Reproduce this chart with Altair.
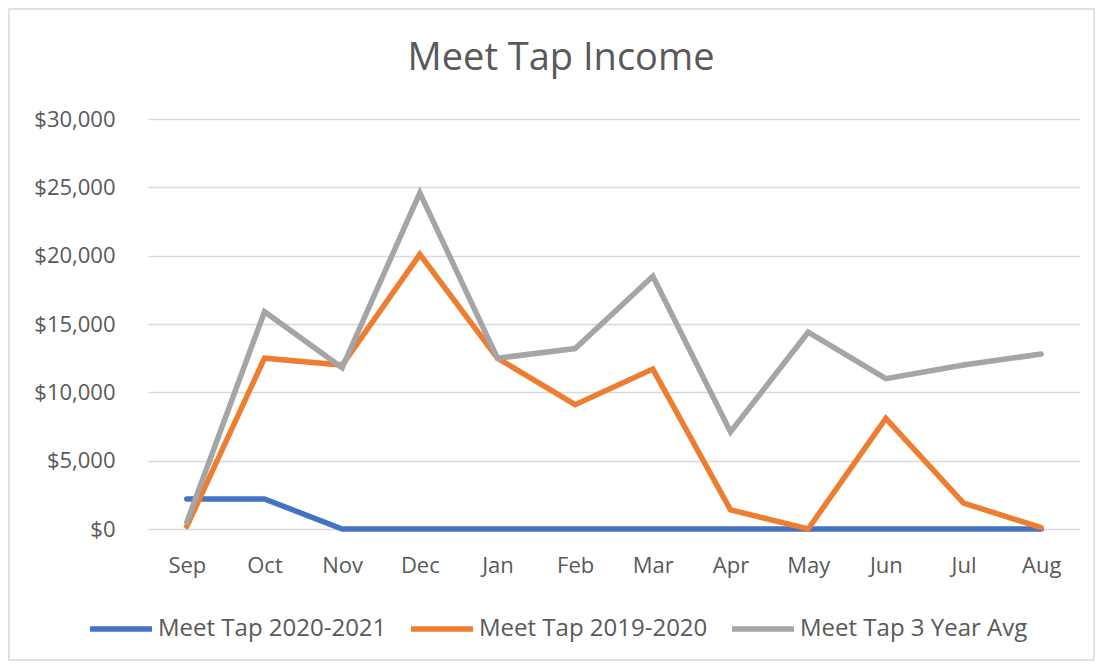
import altair as alt
import pandas as pd

months = ["Sep", "Oct", "Nov", "Dec", "Jan", "Feb", "Mar", "Apr", "May", "Jun", "Jul", "Aug"]
series_names = ["Meet Tap 2020-2021", "Meet Tap 2019-2020", "Meet Tap 3 Year Avg"]
tap_2020_2021 = [2200, 2200, 0, 0, 0, 0, 0, 0, 0, 0, 0, 0]
tap_2019_2020 = [200, 12500, 12000, 20100, 12500, 9100, 11700, 1400, 0, 8100, 1900, 100]
tap_3yr_avg = [500, 15900, 11800, 24600, 12500, 13200, 18500, 7100, 14400, 11000, 12000, 12800]
colors = ["#4472C4", "#ED7D31", "#A5A5A5"]
y_ticks = [0, 5000, 10000, 15000, 20000, 25000, 30000]
title_text = "Meet Tap Income"

rows = []
for name, vals in zip(series_names, [tap_2020_2021, tap_2019_2020, tap_3yr_avg]):
    for m, v in zip(months, vals):
        rows.append({"Month": m, "Series": name, "Income": v})
df = pd.DataFrame(rows)

FONT = "Open Sans"
TXT = "#595959"

lines = alt.Chart(df).mark_line(strokeWidth=5.5, strokeCap="round").encode(
    x=alt.X("Month:N", sort=months, title=None,
            scale=alt.Scale(type="point", padding=0.5),
            axis=alt.Axis(labelAngle=0, ticks=False, domain=False, grid=False,
                          labelFontSize=22, labelColor=TXT, labelFont=FONT,
                          labelPadding=26)),
    y=alt.Y("Income:Q", title=None,
            scale=alt.Scale(domain=[0, 30000], nice=False),
            axis=alt.Axis(values=y_ticks, format="$,.0f", ticks=False, domain=False,
                          gridColor="#D9D9D9", gridWidth=1.3,
                          labelFontSize=22, labelColor=TXT, labelFont=FONT,
                          labelPadding=33)),
    color=alt.Color("Series:N", title=None,
                    scale=alt.Scale(domain=series_names, range=colors),
                    legend=alt.Legend(orient="none", direction="horizontal",
                                      legendX=-61, legendY=476,
                                      symbolType="stroke", symbolSize=3844,
                                      symbolStrokeWidth=5.5, labelOffset=3,
                                      columnPadding=13, labelLimit=400,
                                      labelFontSize=24, labelColor=TXT, labelFont=FONT)),
    order=alt.Order("series_order:Q"),
).transform_calculate(
    series_order="indexof(" + str(series_names) + ", datum.Series)"
)

border = alt.Chart(pd.DataFrame({"a": [0]})).mark_rect(
    fill=None, stroke="#D9D9D9", strokeWidth=1.5
).encode(
    x=alt.value(-139), x2=alt.value(946), y=alt.value(-110), y2=alt.value(541)
)

title = alt.Chart(pd.DataFrame({"t": [title_text]})).mark_text(
    font=FONT, fontSize=38, color=TXT, align="center", baseline="alphabetic"
).encode(
    text="t:N", x=alt.value(413), y=alt.value(-49)
)

chart = alt.layer(border, lines, title).properties(
    width=932, height=410,
    autosize=alt.AutoSizeParams(type="none"),
    padding={"left": 140, "top": 111, "right": 15, "bottom": 132},
).configure_view(stroke=None)

chart.save("out.html", embed_options={"renderer": "svg", "actions": False})
